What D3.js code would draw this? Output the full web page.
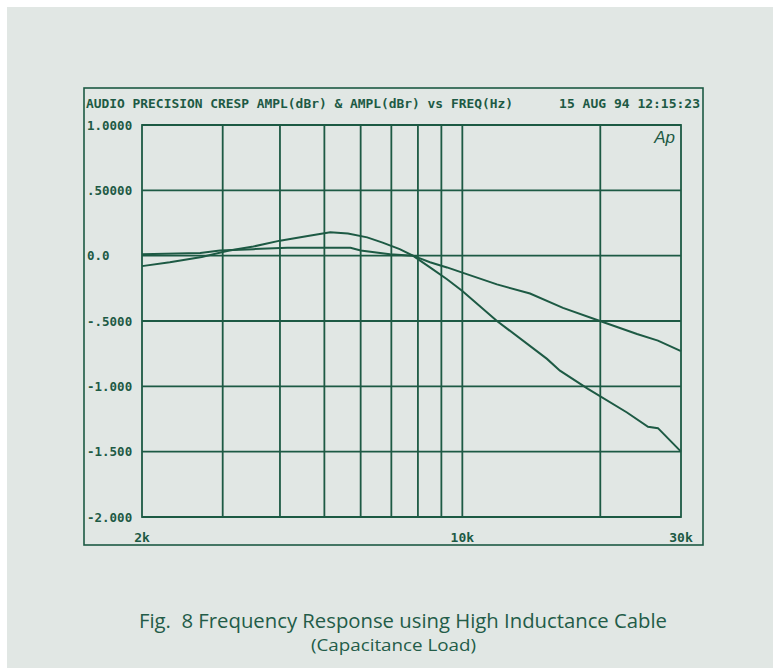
<!DOCTYPE html>
<html lang="en">
<head>
    <meta charset="UTF-8">
    <title>Fig. 8 Frequency Response</title>
    <script src="https://cdn.jsdelivr.net/npm/d3@7/dist/d3.min.js"></script>
    <style>
        body { margin: 0; background: #ffffff; }
        svg { display: block; }
        .mono { font-family: "DejaVu Sans Mono", monospace; font-weight: bold; fill: #1d5a44; }
        .caption { font-family: "Open Sans", sans-serif; fill: #235c48; white-space: pre; }
    </style>
</head>
<body>
<div id="chartArea"></div>
<script>
    'use strict';

    // Frequencies (Hz) and levels (dBr)
    const freqA = [2000, 2300, 2700, 3100, 3500, 4000, 4600, 5150, 5630, 6200, 6700, 7300, 7800, 8500, 9260, 10000, 11900, 15300, 16330, 18800, 22870, 25420, 26720, 30000];
    const levelA = [-0.08, -0.05, -0.01, 0.04, 0.07, 0.115, 0.15, 0.18, 0.17, 0.14, 0.10, 0.05, 0.0, -0.09, -0.18, -0.27, -0.50, -0.79, -0.88, -1.02, -1.20, -1.31, -1.32, -1.50];

    const freqB = [2000, 2680, 2960, 3500, 4150, 5000, 5700, 6000, 6950, 7800, 8500, 9260, 10000, 11900, 14050, 16580, 19970, 24050, 26720, 30000];
    const levelB = [0.01, 0.02, 0.04, 0.05, 0.06, 0.06, 0.06, 0.04, 0.01, 0.0, -0.05, -0.09, -0.13, -0.22, -0.29, -0.40, -0.50, -0.60, -0.65, -0.73];

    const yTicks = [1, 0.5, 0, -0.5, -1, -1.5, -2];
    const yTickLabels = ['1.0000', '.50000', '0.0', '-.5000', '-1.000', '-1.500', '-2.000'];
    const xGrid = [3000, 4000, 5000, 6000, 7000, 8000, 9000, 10000, 20000];
    const xTicks = [2000, 10000, 30000];
    const xTickLabels = ['2k', '10k', '30k'];

    const ink = '#1d5a44';
    const width = 773, height = 668;

    const svg = d3.select('#chartArea').append('svg')
        .attr('width', width).attr('height', height);

    svg.append('rect').attr('x', 7).attr('y', 7)
        .attr('width', width - 7).attr('height', height - 7)
        .attr('fill', '#e1e7e4');

    // outer frame
    svg.append('rect').attr('x', 84).attr('y', 88).attr('width', 619).attr('height', 457)
        .attr('fill', 'none').attr('stroke', ink).attr('stroke-width', 1.6);

    const x = d3.scaleLog().domain([2000, 30000]).range([142, 681]);
    const y = d3.scaleLinear().domain([-2, 1]).range([517, 125]);

    // grid
    svg.append('g').selectAll('line').data(yTicks).join('line')
        .attr('x1', 142).attr('x2', 681)
        .attr('y1', d => y(d)).attr('y2', d => y(d))
        .attr('stroke', ink).attr('stroke-width', 1.8);

    svg.append('g').selectAll('line').data(xGrid).join('line')
        .attr('x1', d => x(d)).attr('x2', d => x(d))
        .attr('y1', 125).attr('y2', 517)
        .attr('stroke', ink).attr('stroke-width', 1.8);

    svg.append('rect').attr('x', 142).attr('y', 125).attr('width', 539).attr('height', 392)
        .attr('fill', 'none').attr('stroke', ink).attr('stroke-width', 1.8);

    // labels
    svg.append('text').attr('class', 'mono').attr('x', 86).attr('y', 108)
        .attr('font-size', 13).attr('textLength', 427).attr('lengthAdjust', 'spacingAndGlyphs')
        .text('AUDIO PRECISION CRESP AMPL(dBr) & AMPL(dBr) vs FREQ(Hz)');
    svg.append('text').attr('class', 'mono').attr('x', 700).attr('y', 108)
        .attr('font-size', 13).attr('text-anchor', 'end')
        .text('15 AUG 94 12:15:23');

    svg.append('g').selectAll('text').data(yTicks).join('text')
        .attr('class', 'mono').attr('font-size', 12.5)
        .attr('x', 87).attr('y', d => y(d) + 4.5)
        .text((d, i) => yTickLabels[i]);

    svg.append('g').selectAll('text').data(xTicks).join('text')
        .attr('class', 'mono').attr('font-size', 13).attr('text-anchor', 'middle')
        .attr('x', d => x(d)).attr('y', 542)
        .text((d, i) => xTickLabels[i]);

    svg.append('text').attr('x', 675).attr('y', 143).attr('text-anchor', 'end')
        .attr('font-family', 'Liberation Sans, sans-serif').attr('font-style', 'italic')
        .attr('font-size', 17).attr('fill', ink).text('Ap');

    // curves
    const line = d3.line().x(d => x(d[0])).y(d => y(d[1]));
    const seriesA = freqA.map((f, i) => [f, levelA[i]]);
    const seriesB = freqB.map((f, i) => [f, levelB[i]]);

    [seriesA, seriesB].forEach(s => {
        svg.append('path').datum(s)
            .attr('d', line)
            .attr('fill', 'none').attr('stroke', ink).attr('stroke-width', 2);
    });

    // caption
    svg.append('text').attr('class', 'caption').attr('x', 139).attr('y', 628)
        .attr('font-size', 20)
        .attr('textLength', 528).attr('lengthAdjust', 'spacingAndGlyphs')
        .text('Fig.  8 Frequency Response using High Inductance Cable');
    svg.append('text').attr('class', 'caption').attr('x', 311).attr('y', 651)
        .attr('font-size', 16)
        .attr('textLength', 165).attr('lengthAdjust', 'spacingAndGlyphs')
        .text('(Capacitance Load)');
</script>
</body>
</html>
